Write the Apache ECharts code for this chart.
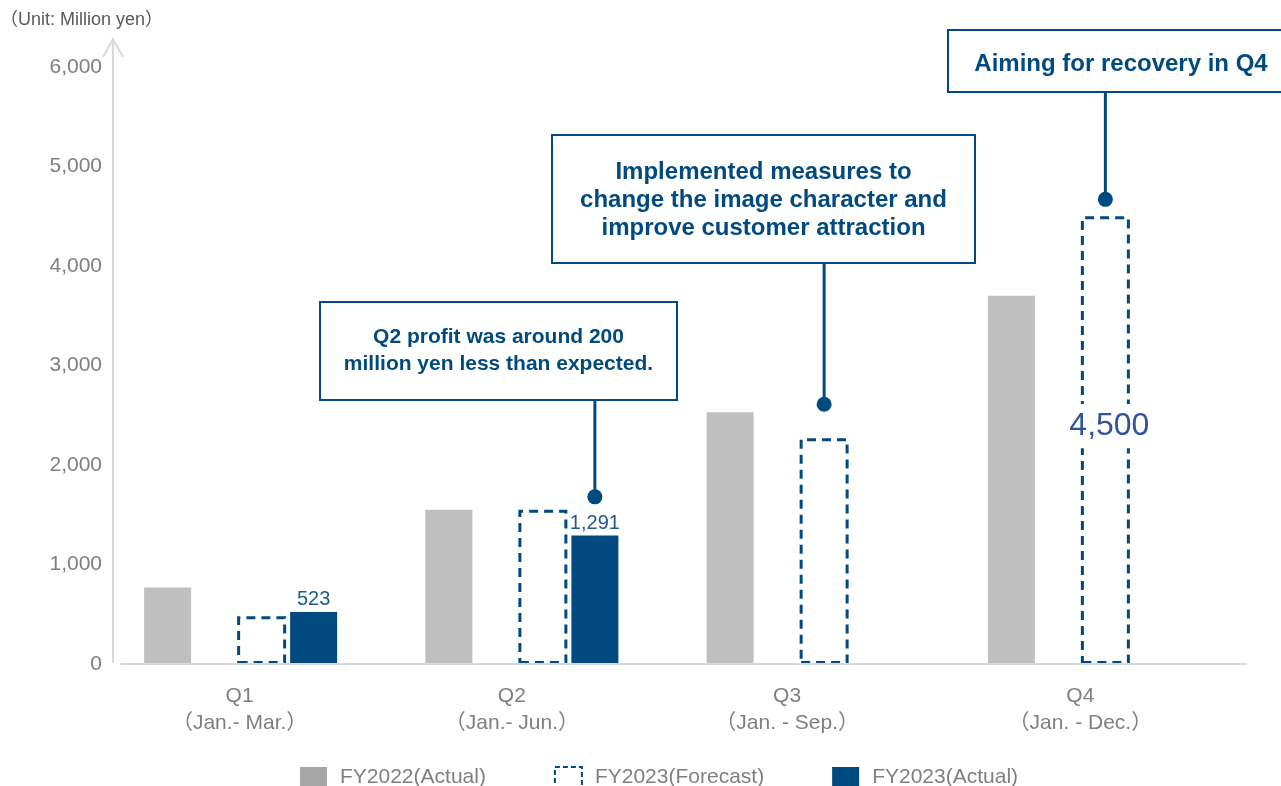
<!DOCTYPE html>
<html>
<head>
<meta charset="utf-8">
<title>Quarterly profit: FY2022 actual vs FY2023 forecast and actual</title>
<script src="https://cdn.jsdelivr.net/npm/echarts@6/dist/echarts.min.js"></script>
<style>
  html, body { margin: 0; padding: 0; background: #ffffff; }
  #chart { width: 1281px; height: 786px; }
</style>
</head>
<body>
<div id="chart"></div>
<script>
// Cumulative profit by quarter (million yen)
const quarters = ['Q1', 'Q2', 'Q3', 'Q4'];
const periods = ['（Jan.- Mar.）', '（Jan.- Jun.）', '（Jan. - Sep.）', '（Jan. - Dec.）'];
const fy2022Actual = [770, 1550, 2530, 3700];
const fy2023Forecast = [480, 1550, 2270, 4500];
const fy2023Actual = [523, 1291, null, null];
const seriesNames = ['FY2022(Actual)', 'FY2023(Forecast)', 'FY2023(Actual)'];

// y-axis scale
const yMin = 0;
const yMax = 6000;
const yStep = 1000;

// Call-out notes: quarter they point at, which series the pointer sits on, pointer height (million yen)
const noteTexts = [
  'Q2 profit was around 200\nmillion yen less than expected.',
  'Implemented measures to\nchange the image character and\nimprove customer attraction',
  'Aiming for recovery in Q4'
];
const noteQuarter = [1, 2, 3];
const noteSeries = ['actual', 'forecast', 'forecast'];
const noteAnchor = [1680, 2610, 4670];

const NAVY = '#004a80';
const GREY_BAR = '#bfbfbf';
const TEXT_GREY = '#7f7f7f';
const AXIS_GREY = '#d9d9d9';
const FONT = '"Liberation Sans", Arial, "Noto Sans CJK JP", sans-serif';

const GRID = { left: 121, right: 35, top: 67, bottom: 122 };

// per-category horizontal nudge of the two-line axis labels (px, leftwards)
const labelShift = [22, 31, 37, 25];

const chart = echarts.init(document.getElementById('chart'), null, { renderer: 'canvas' });

// empty bar series used only to space the visible bars inside each category band
function spacer(name, width) {
  return { name: name, type: 'bar', data: [], barWidth: width, barGap: '0%', silent: true };
}

const richStyles = {};
labelShift.forEach(function (s, i) {
  richStyles['a' + i] = { fontSize: 21, lineHeight: 27, color: TEXT_GREY, fontFamily: FONT, padding: [0, s * 2, 0, 0] };
});

const option = {
  animation: false,
  textStyle: { fontFamily: FONT },
  grid: GRID,
  title: {
    text: '（Unit: Million yen）',
    left: -5, top: 6,
    textStyle: { fontSize: 18, fontWeight: 'normal', color: '#595959', fontFamily: FONT }
  },
  legend: {
    data: [
      { name: seriesNames[0], itemStyle: { color: '#a6a6a6' } },
      { name: seriesNames[1], itemStyle: { color: '#ffffff', borderColor: NAVY, borderWidth: 2, borderType: [5, 3] } },
      { name: seriesNames[2], itemStyle: { color: NAVY } }
    ],
    left: 300, top: 766,
    padding: 0,
    itemWidth: 27, itemHeight: 21,
    itemGap: 68,
    icon: 'rect',
    selectedMode: false,
    textStyle: { fontSize: 21, color: TEXT_GREY, fontFamily: FONT, padding: [0, 0, 0, 8] }
  },
  xAxis: {
    type: 'category',
    data: quarters,
    axisLine: { show: true, lineStyle: { color: AXIS_GREY, width: 2 } },
    axisTick: { show: false },
    axisLabel: {
      margin: 19,
      interval: 0,
      formatter: function (v, i) {
        return '{a' + i + '|' + v + '}\n{a' + i + '|' + periods[i] + '}';
      },
      rich: richStyles
    },
    z: 5
  },
  yAxis: {
    type: 'value',
    min: yMin, max: yMax, interval: yStep,
    axisLine: { show: false },
    axisTick: { show: false },
    splitLine: { show: false },
    axisLabel: {
      margin: 19,
      fontSize: 21,
      color: TEXT_GREY,
      fontFamily: FONT,
      formatter: function (v) { return v.toLocaleString('en-US'); }
    }
  },
  series: [
    {
      name: seriesNames[0], type: 'bar', data: fy2022Actual,
      barWidth: 47, barGap: '0%',
      itemStyle: { color: GREY_BAR }
    },
    spacer('gap-a', 46),
    {
      name: seriesNames[1], type: 'bar', data: fy2023Forecast,
      barWidth: 49, barGap: '0%',
      itemStyle: { color: 'rgba(255,255,255,0)', borderColor: NAVY, borderWidth: 3, borderType: [9, 6] },
      label: {
        show: true,
        position: 'inside',
        offset: [4, -14],
        fontSize: 32,
        color: '#2f5597',
        fontFamily: FONT,
        backgroundColor: '#ffffff',
        padding: [6, 0, 6, 0],
        formatter: function (p) {
          return p.dataIndex === fy2023Forecast.length - 1 ? p.value.toLocaleString('en-US') : '';
        }
      }
    },
    spacer('gap-b', 4),
    {
      name: seriesNames[2], type: 'bar', data: fy2023Actual,
      barWidth: 47, barGap: '0%',
      itemStyle: { color: NAVY },
      label: {
        show: true,
        position: 'top',
        distance: 2,
        fontSize: 20,
        color: '#1f5a8c',
        fontFamily: FONT,
        formatter: function (p) { return p.value == null ? '' : p.value.toLocaleString('en-US'); }
      }
    },
    spacer('gap-c', 42)
  ]
};

chart.setOption(option);

// Boxes for the call-out notes (x, y, width, height, font size, line height, text nudge)
const noteBoxes = [
  { x: 320, y: 302, w: 357, h: 98, size: 21, lh: 27, dy: 0, tx: null },
  { x: 552, y: 135, w: 423, h: 128, size: 24, lh: 28, dy: 1, tx: null },
  { x: 948, y: 30, w: 345, h: 62, size: 24, lh: 28, dy: 3, tx: 1121 }
];

function drawDecorations() {
  const model = chart.getModel();
  const seriesIdx = { forecast: 2, actual: 4 };
  const elements = [];

  // vertical axis with an open arrow head
  const y0 = chart.convertToPixel({ yAxisIndex: 0 }, yMin);
  const axisX = GRID.left - 8;
  elements.push({
    type: 'polyline', silent: true, z: 10,
    shape: { points: [[axisX, y0 - 1], [axisX, 39]] },
    style: { stroke: AXIS_GREY, lineWidth: 2, fill: null }
  });
  elements.push({
    type: 'polyline', silent: true, z: 10,
    shape: { points: [[axisX - 10, 57], [axisX, 39], [axisX + 10, 57]] },
    style: { stroke: AXIS_GREY, lineWidth: 2, fill: null }
  });

  noteTexts.forEach(function (txt, i) {
    const box = noteBoxes[i];
    const data = model.getSeriesByIndex(seriesIdx[noteSeries[i]]).getData();
    const lay = data.getItemLayout(noteQuarter[i]);
    const cx = lay.x + lay.width / 2;
    const cy = chart.convertToPixel({ yAxisIndex: 0 }, noteAnchor[i]);

    elements.push({
      type: 'line', silent: true, z: 20,
      shape: { x1: cx, y1: box.y + box.h, x2: cx, y2: cy },
      style: { stroke: NAVY, lineWidth: 3 }
    });
    elements.push({
      type: 'circle', silent: true, z: 21,
      shape: { cx: cx, cy: cy, r: 7.5 },
      style: { fill: NAVY }
    });
    elements.push({
      type: 'rect', silent: true, z: 20,
      shape: { x: box.x, y: box.y, width: box.w, height: box.h },
      style: { fill: '#ffffff', stroke: NAVY, lineWidth: 2 }
    });
    elements.push({
      type: 'text', silent: true, z: 22,
      x: box.tx != null ? box.tx : box.x + box.w / 2,
      y: box.y + box.h / 2 + box.dy,
      style: {
        text: txt,
        fill: NAVY,
        font: 'bold ' + box.size + 'px ' + FONT,
        lineHeight: box.lh,
        align: 'center',
        verticalAlign: 'middle'
      }
    });
  });

  chart.setOption({ graphic: { elements: elements } });
}

drawDecorations();
</script>
</body>
</html>
